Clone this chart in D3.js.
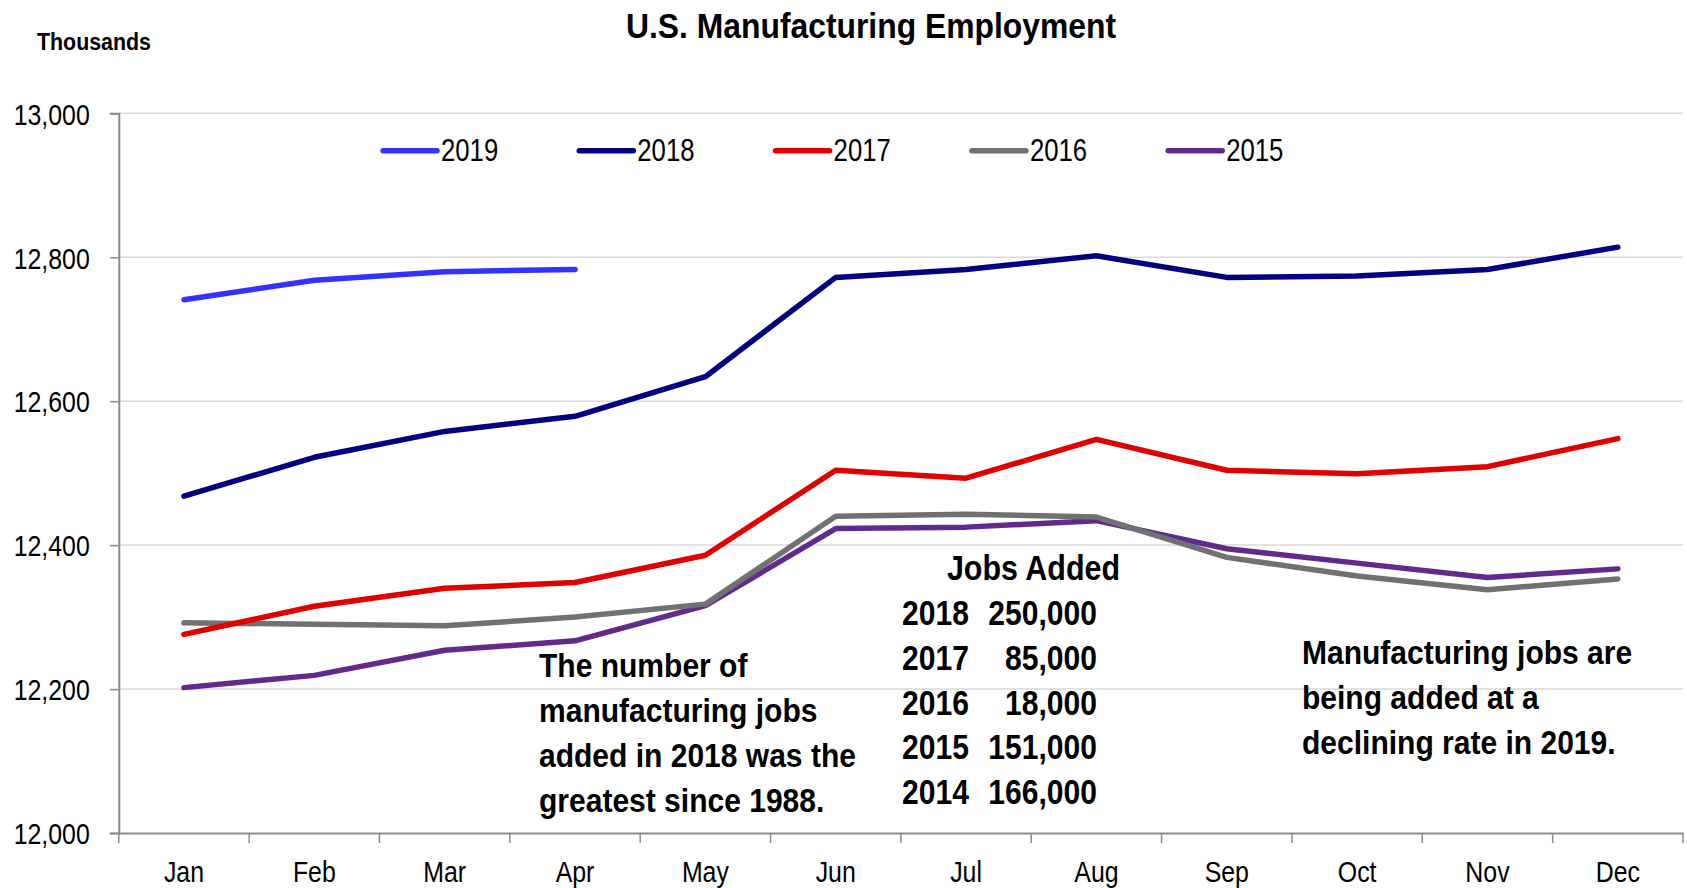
<!DOCTYPE html>
<html>
<head>
<meta charset="utf-8">
<script src="https://cdn.jsdelivr.net/npm/d3@7"></script>
<style>
  body { margin: 0; background: #fff; }
  svg text { font-family: "Liberation Sans", Arial, sans-serif; fill: #000; }
</style>
</head>
<body>
<div id="chart"></div>
<script>
// months on the x axis
var months = ['Jan', 'Feb', 'Mar', 'Apr', 'May', 'Jun', 'Jul', 'Aug', 'Sep', 'Oct', 'Nov', 'Dec'];
var yTicks = [12000, 12200, 12400, 12600, 12800, 13000];

// employment, thousands
var y2019 = [12741, 12768, 12780, 12783];
var y2018 = [12468, 12522, 12558, 12579, 12634, 12772, 12783, 12802, 12772, 12774, 12783, 12814];
var y2017 = [12276, 12315, 12340, 12348, 12386, 12504, 12493, 12547, 12504, 12499, 12509, 12548];
var y2016 = [12292, 12290, 12288, 12300, 12318, 12440, 12443, 12439, 12383, 12357, 12338, 12353];
var y2015 = [12202, 12219, 12254, 12267, 12316, 12423, 12425, 12434, 12395, 12375, 12355, 12367];

var seriesNames = ['2019', '2018', '2017', '2016', '2015'];
var seriesValues = [y2019, y2018, y2017, y2016, y2015];
var colors = ['#3333FF', '#000080', '#E00000', '#717171', '#612A8C'];

var jobsYears = ['2018', '2017', '2016', '2015', '2014'];
var jobsAdded = ['250,000', '85,000', '18,000', '151,000', '166,000'];

var noteLeft = ['The number of', 'manufacturing jobs', 'added in 2018 was the', 'greatest since 1988.'];
var noteRight = ['Manufacturing jobs are', 'being added at a', 'declining rate in 2019.'];

var W = 1687, H = 888;
var plotLeft = 118.8, plotRight = 1683, plotTop = 113.3, plotBottom = 833;

// no narrow font installed, so squeeze the sans horizontally
var NARROW = 0.83, NARROW_BOLD = 0.91;

var root = d3.select('#chart').append('svg')
    .attr('width', W)
    .attr('height', H);

var x = d3.scaleBand().domain(months).range([plotLeft, plotRight]).padding(0);
var y = d3.scaleLinear().domain([12000, 13000]).range([plotBottom, plotTop]);

function cx(i){
    return x(months[i]) + x.bandwidth() / 2;
}

function drawText(parent, tx, ty, str, size, bold, anchor, sx){
    var s = sx || (bold ? NARROW_BOLD : NARROW);
    return parent.append('text')
        .attr('transform', 'translate(' + tx + ',' + ty + ') scale(' + s + ',1)')
        .attr('text-anchor', anchor || 'start')
        .attr('font-size', size)
        .attr('font-weight', bold ? 'bold' : 'normal')
        .text(str);
}

// gridlines
root.append('g').selectAll('line')
    .data(yTicks.slice(1))
    .enter().append('line')
    .attr('x1', plotLeft).attr('x2', plotRight)
    .attr('y1', function(d){ return y(d); })
    .attr('y2', function(d){ return y(d); })
    .attr('stroke', '#d9d9d9')
    .attr('stroke-width', 1.5);

// y axis
var yAxis = root.append('g')
    .attr('transform', 'translate(' + plotLeft + ',0)')
    .call(d3.axisLeft(y).tickValues(yTicks).tickSize(9).tickFormat(d3.format(',')));
yAxis.select('.domain').attr('stroke', '#8c8c8c').attr('stroke-width', 2);
yAxis.selectAll('.tick line').attr('stroke', '#8c8c8c').attr('stroke-width', 1.5);
yAxis.selectAll('.tick text')
    .attr('x', 0)
    .attr('dy', '0.36em')
    .attr('transform', 'translate(-29,0) scale(' + NARROW + ',1)')
    .attr('font-size', 30)
    .attr('font-family', null)
    .attr('fill', '#000');

// x axis: labels at band centres, ticks at band edges
var xAxis = root.append('g')
    .attr('transform', 'translate(0,' + plotBottom + ')')
    .call(d3.axisBottom(x).tickSize(0));
xAxis.select('.domain').attr('stroke', '#8c8c8c').attr('stroke-width', 2);
xAxis.selectAll('.tick text')
    .attr('y', 0)
    .attr('dy', null)
    .attr('transform', 'translate(0,49) scale(' + NARROW + ',1)')
    .attr('font-size', 30)
    .attr('font-family', null)
    .attr('fill', '#000');

var edges = months.map(function(m){ return x(m); }).concat([plotRight]);
root.append('g').selectAll('line')
    .data(edges)
    .enter().append('line')
    .attr('x1', function(d){ return d; })
    .attr('x2', function(d){ return d; })
    .attr('y1', plotBottom).attr('y2', plotBottom + 10)
    .attr('stroke', '#8c8c8c')
    .attr('stroke-width', 1.5);

// series lines, 2015 drawn first so newer years sit on top
var line = d3.line()
    .x(function(d, i){ return cx(i); })
    .y(function(d){ return y(d); });

for(var k = seriesValues.length - 1; k >= 0; k --){
    root.append('path')
        .datum(seriesValues[k])
        .attr('d', line)
        .attr('fill', 'none')
        .attr('stroke', colors[k])
        .attr('stroke-width', 5.5)
        .attr('stroke-linejoin', 'round')
        .attr('stroke-linecap', 'round');
}

// legend
var legend = root.append('g');
for(var i = 0; i < seriesNames.length; i ++){
    var lx = 383 + i * 196.3;
    legend.append('line')
        .attr('x1', lx).attr('x2', lx + 54)
        .attr('y1', 150.7).attr('y2', 150.7)
        .attr('stroke', colors[i])
        .attr('stroke-width', 5.5)
        .attr('stroke-linecap', 'round');
    drawText(legend, lx + 58, 160.7, seriesNames[i], 31, false);
}

// title and unit label
drawText(root, 871, 38, 'U.S. Manufacturing Employment', 35, true, 'middle');
drawText(root, 37, 50, 'Thousands', 23.5, true);

// notes
var notes = root.append('g');
for(var a = 0; a < noteLeft.length; a ++){
    drawText(notes, 539, 677 + a * 45, noteLeft[a], 33, true);
}
for(var b = 0; b < noteRight.length; b ++){
    drawText(notes, 1302, 664 + b * 45, noteRight[b], 33, true);
}

var jobs = root.append('g');
drawText(jobs, 1120, 580, 'Jobs Added', 35, true, 'end', 0.87);
for(var j = 0; j < jobsYears.length; j ++){
    drawText(jobs, 902, 625 + j * 44.8, jobsYears[j], 35, true, 'start', 0.86);
    drawText(jobs, 1097, 625 + j * 44.8, jobsAdded[j], 35, true, 'end', 0.86);
}
</script>
</body>
</html>
